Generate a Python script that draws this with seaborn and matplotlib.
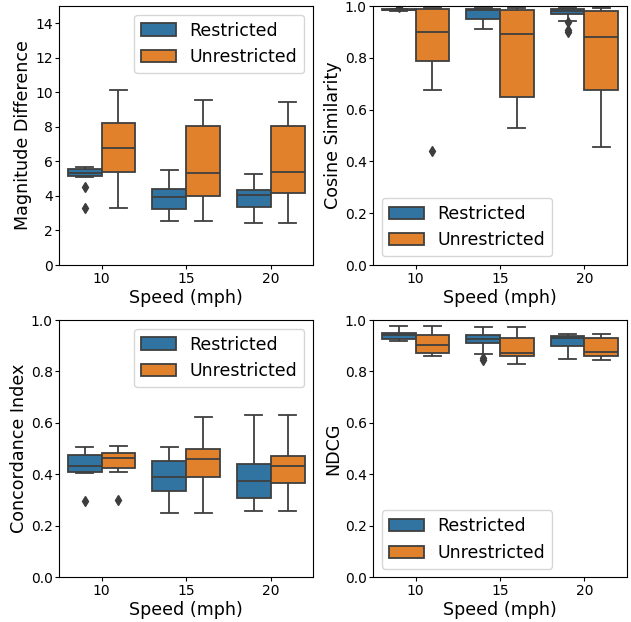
import matplotlib
matplotlib.use("Agg")
import matplotlib.pyplot as plt
import seaborn as sns
import pandas as pd

speeds = [10, 15, 20]
conditions = ["Restricted", "Unrestricted"]

# Magnitude Difference samples per speed (10, 15, 20)
mag_restricted = [
    [3.28, 4.52, 5.08, 5.16, 5.22, 5.30, 5.35, 5.40, 5.48, 5.54, 5.58, 5.62, 5.66],
    [2.53, 2.90, 3.10, 3.26, 3.50, 3.80, 3.95, 4.10, 4.30, 4.42, 4.80, 5.20, 5.49],
    [2.45, 2.90, 3.20, 3.34, 3.60, 3.90, 4.08, 4.20, 4.28, 4.33, 4.70, 5.00, 5.27],
]
mag_unrestricted = [
    [3.28, 4.20, 5.00, 5.41, 5.90, 6.40, 6.78, 7.30, 7.90, 8.25, 9.00, 9.60, 10.16],
    [2.53, 3.20, 3.70, 3.98, 4.50, 5.00, 5.33, 6.20, 7.20, 8.03, 8.60, 9.10, 9.54],
    [2.45, 3.30, 3.90, 4.15, 4.60, 5.10, 5.37, 6.30, 7.30, 8.03, 8.60, 9.00, 9.46],
]

# Cosine Similarity samples
cos_restricted = [
    [0.980, 0.982, 0.983, 0.984, 0.985, 0.985, 0.986, 0.987, 0.987, 0.988, 0.989, 0.990, 0.996],
    [0.911, 0.930, 0.945, 0.950, 0.965, 0.975, 0.984, 0.985, 0.986, 0.987, 0.989, 0.990, 0.991],
    [0.898, 0.908, 0.939, 0.944, 0.970, 0.973, 0.976, 0.979, 0.982, 0.984, 0.985, 0.986,
     0.988, 0.989, 0.990, 0.990, 0.991],
]
cos_unrestricted = [
    [0.441, 0.674, 0.740, 0.789, 0.830, 0.870, 0.901, 0.930, 0.960, 0.987, 0.989, 0.990, 0.991],
    [0.528, 0.580, 0.620, 0.647, 0.740, 0.830, 0.893, 0.930, 0.960, 0.985, 0.988, 0.990, 0.991],
    [0.457, 0.560, 0.630, 0.674, 0.760, 0.830, 0.879, 0.920, 0.955, 0.982, 0.986, 0.989, 0.991],
]

# Concordance Index samples
ci_restricted = [
    [0.298, 0.407, 0.408, 0.408, 0.415, 0.424, 0.431, 0.445, 0.462, 0.476, 0.490, 0.500, 0.508],
    [0.251, 0.290, 0.320, 0.337, 0.355, 0.372, 0.389, 0.410, 0.432, 0.451, 0.475, 0.495, 0.508],
    [0.258, 0.280, 0.300, 0.309, 0.330, 0.355, 0.375, 0.400, 0.420, 0.440, 0.500, 0.580, 0.632],
]
ci_unrestricted = [
    [0.299, 0.408, 0.416, 0.424, 0.440, 0.455, 0.465, 0.472, 0.478, 0.484, 0.495, 0.505, 0.511],
    [0.251, 0.310, 0.360, 0.391, 0.420, 0.445, 0.461, 0.475, 0.488, 0.500, 0.540, 0.590, 0.624],
    [0.258, 0.310, 0.345, 0.365, 0.390, 0.415, 0.432, 0.448, 0.462, 0.473, 0.520, 0.590, 0.632],
]

# NDCG samples
ndcg_restricted = [
    [0.917, 0.920, 0.923, 0.925, 0.930, 0.936, 0.940, 0.944, 0.948, 0.951, 0.960, 0.970, 0.978],
    [0.845, 0.853, 0.868, 0.909, 0.915, 0.921, 0.927, 0.932, 0.937, 0.942, 0.952, 0.963, 0.973],
    [0.850, 0.875, 0.890, 0.900, 0.912, 0.922, 0.930, 0.933, 0.936, 0.938, 0.941, 0.944, 0.946],
]
ndcg_unrestricted = [
    [0.860, 0.864, 0.868, 0.871, 0.882, 0.893, 0.903, 0.915, 0.928, 0.940, 0.955, 0.968, 0.978],
    [0.828, 0.845, 0.855, 0.861, 0.865, 0.869, 0.873, 0.890, 0.910, 0.929, 0.945, 0.960, 0.973],
    [0.846, 0.852, 0.857, 0.861, 0.866, 0.871, 0.876, 0.893, 0.912, 0.929, 0.936, 0.942, 0.946],
]

metrics = [
    ("Magnitude Difference", mag_restricted, mag_unrestricted, (0, 15), [0, 2, 4, 6, 8, 10, 12, 14], "upper right"),
    ("Cosine Similarity", cos_restricted, cos_unrestricted, (0, 1), [0, 0.2, 0.4, 0.6, 0.8, 1.0], "lower left"),
    ("Concordance Index", ci_restricted, ci_unrestricted, (0, 1), [0, 0.2, 0.4, 0.6, 0.8, 1.0], "upper right"),
    ("NDCG", ndcg_restricted, ndcg_unrestricted, (0, 1), [0, 0.2, 0.4, 0.6, 0.8, 1.0], "lower left"),
]

plt.rcParams["font.family"] = ["DejaVu Sans"]

W, H = 631, 622
fig = plt.figure(figsize=(W / 100, H / 100), dpi=100)
positions = [
    (59.3, 6.0, 313.0, 265.0),
    (373.3, 6.0, 626.7, 265.0),
    (59.3, 320.0, 313.0, 577.3),
    (373.3, 320.0, 626.7, 577.3),
]

palette = sns.color_palette("tab10")[:2]

for (name, rvals, uvals, ylim, yticks, loc), (x0, y0, x1, y1) in zip(metrics, positions):
    ax = fig.add_axes([x0 / W, 1 - y1 / H, (x1 - x0) / W, (y1 - y0) / H])
    rows = []
    for cond, groups in zip(conditions, [rvals, uvals]):
        for sp, vals in zip(speeds, groups):
            for v in vals:
                rows.append({"Speed": sp, "Value": v, "Condition": cond})
    df = pd.DataFrame(rows)
    sns.boxplot(
        data=df, x="Speed", y="Value", hue="Condition", hue_order=conditions,
        palette=palette, saturation=0.75, linewidth=1.3, ax=ax,
        flierprops=dict(marker="d", markersize=5, markerfacecolor="#3d3d3d",
                        markeredgecolor="#3d3d3d"),
    )
    ax.set_ylim(*ylim)
    ax.set_yticks(yticks)
    if ylim[1] == 1:
        ax.set_yticklabels([f"{t:.1f}" for t in yticks])
    ax.set_ylabel(name, fontsize=12.6, labelpad=2)
    ax.set_xlabel("Speed (mph)", fontsize=12.6, labelpad=2.5)
    ax.tick_params(labelsize=10, length=3.1, pad=1.6)
    handles, labels = ax.get_legend_handles_labels()
    ax.legend(handles, labels, loc=loc, fontsize=12.5)

fig.savefig("out.png", dpi=100)
